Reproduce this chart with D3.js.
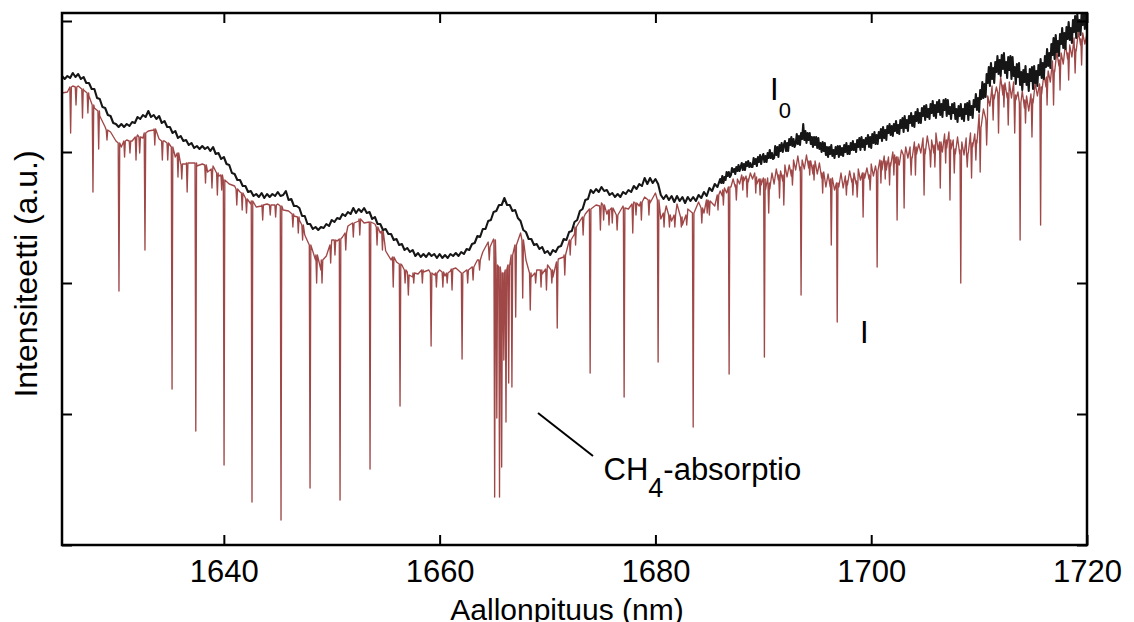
<!DOCTYPE html>
<html><head><meta charset="utf-8">
<script src="https://cdn.jsdelivr.net/npm/d3@7"></script>
<style>
body{margin:0;background:#fff}
text{font-family:"Liberation Sans",Arial,sans-serif;fill:#000}
</style>
</head><body>
<svg id="c" width="1134" height="622"></svg>
<script>
// ---------- data (wavelength in nm, intensity in arbitrary units) ----------
const xTicks = [1640, 1660, 1680, 1700, 1720];
const yTicks = [0, 131, 262, 393, 524];

// I0 : reference spectrum (no gas), part A: 1625–1685.75 nm every 0.25 nm
const I0aStart = 1625, I0aStep = 0.25;
const I0a = [
469,466,469,467, 472,468,471,466, 468,462,462,456, 456,447,446,438, 437,430,429,422,
421,418,421,418, 421,419,423,422, 428,426,430,428, 434,428,430,426, 429,422,424,418,
418,412,414,407, 409,404,405,400, 402,397,399,396, 399,396,398,394, 398,391,392,386,
388,381,380,372, 371,365,365,359, 359,353,354,349, 351,348,352,347, 351,348,351,349,
353,349,350,354, 345,346,339,339, 337,329,329,321, 321,316,318,315, 318,317,321,319,
325,323,327,326, 331,329,333,331, 337,332,336,333, 337,332,333,326, 328,321,321,315,
316,311,311,305, 306,300,301,295, 297,293,295,289, 292,288,291,288, 292,289,291,287,
291,287,290,287, 291,289,292,289, 293,291,296,295, 301,302,309,308, 316,316,324,325,
333,334,340,340, 347,340,340,334, 335,327,324,315, 313,306,306,300, 301,296,298,292,
294,290,295,293, 298,299,306,305, 313,314,323,325, 334,336,345,346, 355,352,356,353,
358,354,355,350, 352,348,351,348, 353,351,355,353, 359,356,361,359, 367,361,367,362,
366,361,350,346, 350,345,349,343, 349,344,348,342, 348,344,348,344, 350,347,353,349,
357,354,361,358
];
// I0 part B: 1686–1720 nm every 0.1 nm (noisy end of the spectrum)
const I0bStart = 1686, I0bStep = 0.1;
const I0b = [
366,362,369,362,368,365,373,369,373,368, 370,377,373,376,371,378,374,380,374,378,
382,375,381,375,383,379,384,378,382,378, 378,387,381,386,379,388,383,390,381,388,
391,383,389,383,392,387,395,387,392,386, 387,399,390,398,388,400,394,402,393,400,
404,394,402,394,406,400,408,399,406,398, 401,411,401,409,400,412,406,421,405,414,
402,412,405,412,401,408,398,408,400,408, 397,407,396,402,393,403,394,402,390,398,
388,398,391,400,389,395,387,398,391,399, 388,399,390,397,389,400,393,402,391,399,
391,402,395,404,395,401,393,405,398,407, 395,408,398,405,395,407,401,410,398,408,
397,411,402,413,401,410,401,413,407,416, 404,418,407,415,405,419,412,421,410,419,
409,421,414,424,412,420,411,425,417,427, 413,429,417,425,414,429,422,432,419,429,
418,433,424,436,422,432,422,437,429,439, 425,440,428,436,426,441,432,444,429,440,
427,443,433,445,430,441,428,445,435,446, 429,445,431,438,426,441,432,442,426,436,
423,439,429,441,426,436,424,441,431,442, 425,444,430,439,427,445,438,451,435,447,
433,455,446,463,447,461,448,471,462,478, 459,482,466,477,462,483,473,489,471,485,
469,490,476,492,472,483,467,488,475,489, 466,488,469,478,461,481,468,482,460,473,
455,475,463,479,460,471,454,476,464,478, 456,479,462,474,459,480,470,486,467,482,
466,489,478,496,479,492,477,501,490,507, 486,510,493,504,489,511,501,517,497,512,
496,518,506,523,505,517,502,525,513,529, 507,531,514,525,510,531,520,536,516,531,
527
];

// I : transmitted spectrum, continuum part A: 1625–1685.5 nm every 0.5 nm
const IaStart = 1625, IaStep = 0.5;
const Ia = [
452,453, 459,459, 455,449, 437,429, 418,413, 404,398, 405,404, 410,407, 414,415, 406,404,
400,388, 381,381, 382,379, 381,373, 379,369, 366,361, 359,353, 347,341, 338,339, 341,340,
341,335, 334,329, 325,310, 293,285, 275,289, 305,304, 308,319, 326,324, 322,321, 321,312,
294,285, 283,280, 273,268, 271,273, 275,270, 275,269, 274,277, 273,275, 278,285, 293,303,
306,275, 270,280, 300,312, 285,268, 275,271, 280,268, 286,288, 304,311, 324,331, 341,340,
342,331, 340,326, 339,336, 343,339, 348,342, 352,326, 339,324, 341,320, 336,323, 343,332,
348,339
];
// I continuum part B: 1686–1720 nm every 0.2 nm
const IbStart = 1686, IbStep = 0.2;
const Ib = [
354,349,357,352,363, 358,366,358,366,361, 370,364,369,363,372, 366,372,361,366,360,
367,355,367,356,372, 361,376,365,374,364, 380,368,380,369,385, 375,389,374,385,376,
390,377,384,371,384, 371,382,367,373,358, 371,358,367,355,369, 358,372,357,369,360,
374,363,372,361,376, 365,379,367,377,366, 381,369,379,370,385, 375,389,375,388,379,
393,382,391,380,395, 384,398,387,398,387, 403,391,401,392,407, 391,409,395,405,392,
412,395,408,393,411, 397,413,396,405,391, 408,391,403,390,407, 392,412,398,411,402,
431,419,436,427,449, 439,459,446,458,447, 468,450,462,447,463, 447,463,445,453,438,
454,437,449,434,451, 442,462,449,461,451, 471,458,474,463,484, 473,493,479,492,481,
501,486,500,488,507, 494,514,500,512,501,
511
];

// CH4 absorption lines in I : [centre nm, level at line edge, level at line bottom]
const absLines = [
[1625.8,458,412],[1626.3,458,440],[1626.9,456,427],[1627.4,452,432],[1627.87,440,353],
[1628.4,434,396],[1629.17,415,405],[1630.28,402,254],[1630.8,404,388],[1631.3,404,392],
[1631.86,408,385],[1632.2,408,392],[1632.69,412,295],[1633.6,416,400],[1634.3,404,385],
[1634.8,402,385],[1635.2,398,156],[1635.75,392,368],[1636.1,381,366],[1636.6,382,353],
[1637.4,382,114],[1638.3,380,362],[1638.9,376,357],[1639.4,372,350],[1639.8,370,355],
[1640.02,365,80],[1641.2,356,340],[1641.7,352,335],[1642.1,346,332],[1642.61,344,43],
[1643.6,340,325],[1644.3,340,330],[1644.8,340,328],[1645.3,339,25],[1646.4,331,318],
[1646.9,328,312],[1647.3,320,305],[1647.99,300,57],[1648.6,290,262],[1649.1,285,262],
[1649.9,300,282],[1650.3,305,290],[1650.77,306,45],[1651.3,312,295],[1652.0,322,308],
[1652.6,326,310],[1653.55,323,76],[1654.2,318,300],[1654.7,314,295],[1655.7,288,258],
[1656.33,281,139],[1656.8,275,262],[1657.1,270,250],[1657.6,272,262],[1658.4,275,262],
[1659.21,272,199],[1659.7,272,258],[1660.3,273,258],[1660.7,272,262],[1661.15,276,255],
[1662.08,272,186],[1662.6,275,262],[1663.1,278,265],[1663.7,285,275],[1664.6,298,285],
[1665.1,305,48],[1665.3,280,127],[1665.55,278,48],[1665.75,272,78],[1665.95,272,185],
[1666.15,275,123],[1666.4,280,162],[1666.7,290,158],[1667.05,300,228],[1667.7,305,247],
[1668.4,272,235],[1668.9,272,262],[1669.4,275,258],[1669.9,276,255],[1670.4,275,262],
[1670.9,283,217],[1671.6,290,270],[1672.1,305,290],[1672.6,318,300],[1673.3,328,310],
[1673.95,336,172],[1674.9,339,315],[1675.2,340,325],[1675.7,335,320],[1676.0,337,322],
[1676.45,330,315],[1677.1,337,148],[1677.9,341,312],[1678.2,342,330],[1678.7,343,325],
[1679.4,345,330],[1680.25,345,183],[1680.8,332,318],[1681.3,330,318],[1681.8,330,318],
[1682.4,328,318],[1682.9,330,320],[1683.5,332,118],[1684.3,337,322],[1684.8,345,332],
[1685.0,344,330],[1685.8,350,335],[1686.3,355,340],[1686.83,358,171],[1687.5,360,345],
[1688.1,368,355],[1688.5,366,348],[1689.3,368,352],[1689.7,366,350],
[1690.1,366,188],[1690.5,362,332],[1691.5,370,347],[1691.9,370,340],[1692.7,375,360],
[1693.5,378,250],[1694.3,384,370],[1694.7,380,365],[1695.5,372,352],[1696.3,366,300],
[1696.85,362,223],[1697.7,364,350],[1698.3,366,350],[1698.7,364,348],[1699.25,372,328],
[1699.9,370,355],[1700.55,374,278],[1700.9,384,362],[1701.3,384,366],[1701.7,382,360],
[1702.1,390,370],[1702.4,388,325],[1703.05,390,337],[1703.7,388,370],[1704.1,398,370],
[1704.9,396,350],[1705.5,395,378],[1705.9,400,378],[1706.4,403,357],[1706.9,405,382],
[1707.3,405,345],[1707.7,396,372],[1708.3,395,262],[1708.9,392,378],[1709.3,402,367],
[1709.7,405,385],[1710.1,418,373],[1710.7,425,400],[1711.3,450,425],[1711.8,452,412],
[1712.3,460,438],[1712.7,452,420],[1713.3,450,412],[1713.8,442,305],[1714.3,445,422],
[1714.9,446,408],[1715.7,458,320],[1716.3,468,440],[1716.9,475,440],[1717.5,485,455],
[1718.3,492,465],[1718.9,496,472],[1719.5,506,480]
];

// ---------- drawing ----------
const L = 62, R = 1087, T = 13, B = 545;
const lineHalf = 0.07;

const svg = d3.select('#c');
const x = d3.scaleLinear().domain([1625, 1720]).range([L, R]);
const y = d3.scaleLinear().domain([0, 532]).range([B, T]);

svg.append('defs').append('clipPath').attr('id', 'clip')
  .append('rect').attr('x', L).attr('y', T).attr('width', R - L).attr('height', B - T);

const i0Pts = [
  ...I0a.map((v, k) => [I0aStart + k * I0aStep, v]),
  ...I0b.map((v, k) => [I0bStart + k * I0bStep, v])
];
let iPts = [
  ...Ia.map((v, k) => [IaStart + k * IaStep, v]),
  ...Ib.map((v, k) => [IbStart + k * IbStep, v])
].filter(p => !absLines.some(l => Math.abs(l[0] - p[0]) < 0.09));
absLines.forEach(([c, top, bot]) => {
  iPts.push([c - lineHalf, top], [c, bot], [c + lineHalf, top]);
});
iPts.sort((a, b) => a[0] - b[0]);

const line = d3.line().x(d => x(d[0])).y(d => y(d[1]));
const plot = svg.append('g').attr('clip-path', 'url(#clip)');
plot.append('path').datum(iPts).attr('d', line)
  .attr('fill', 'none').attr('stroke', '#a04848').attr('stroke-width', 1.35).attr('stroke-linejoin', 'round');
plot.append('path').datum(i0Pts).attr('d', line)
  .attr('fill', 'none').attr('stroke', '#161616').attr('stroke-width', 2.1).attr('stroke-linejoin', 'round');

// axes
function style(g) {
  g.select('.domain').remove();
  g.selectAll('.tick line').attr('stroke', '#000').attr('stroke-width', 2);
  g.selectAll('.tick text').attr('font-size', 31).attr('font-family', '"Liberation Sans",Arial,sans-serif').attr('fill', '#000');
}
svg.append('g').attr('transform', `translate(0,${B})`)
  .call(d3.axisBottom(x).tickValues(xTicks).tickFormat(d3.format('d'))
    .tickSizeInner(-10).tickSizeOuter(0).tickPadding(15)).call(style);
svg.append('g').attr('transform', `translate(0,${T})`)
  .call(d3.axisTop(x).tickValues(xTicks).tickFormat('')
    .tickSizeInner(-10).tickSizeOuter(0)).call(style);
svg.append('g').attr('transform', `translate(${L},0)`)
  .call(d3.axisLeft(y).tickValues(yTicks).tickFormat('')
    .tickSizeInner(-10).tickSizeOuter(0)).call(style);
svg.append('g').attr('transform', `translate(${R},0)`)
  .call(d3.axisRight(y).tickValues(yTicks).tickFormat('')
    .tickSizeInner(-10).tickSizeOuter(0)).call(style);

svg.append('rect').attr('x', L).attr('y', T).attr('width', R - L).attr('height', B - T)
  .attr('fill', 'none').attr('stroke', '#000').attr('stroke-width', 2.5);

// axis titles
svg.append('text').attr('x', 567).attr('y', 620).attr('text-anchor', 'middle')
  .attr('font-size', 30).text('Aallonpituus (nm)');
svg.append('text').attr('transform', 'translate(37,274) rotate(-90)').attr('text-anchor', 'middle')
  .attr('font-size', 32).text('Intensiteetti (a.u.)');

// curve labels
const t0 = svg.append('text').attr('x', 770).attr('y', 100).attr('font-size', 31);
t0.append('tspan').text('I');
t0.append('tspan').attr('font-size', 22).attr('dy', 18).text('0');
svg.append('text').attr('x', 860).attr('y', 343).attr('font-size', 31).text('I');

// annotation
svg.append('line').attr('x1', 538).attr('y1', 413).attr('x2', 593).attr('y2', 456)
  .attr('stroke', '#000').attr('stroke-width', 2);
const ta = svg.append('text').attr('x', 603.5).attr('y', 480).attr('font-size', 31);
ta.append('tspan').text('CH');
ta.append('tspan').attr('font-size', 27).attr('dy', 17).text('4');
ta.append('tspan').attr('dy', -17).text('-absorptio');
</script>
</body></html>
